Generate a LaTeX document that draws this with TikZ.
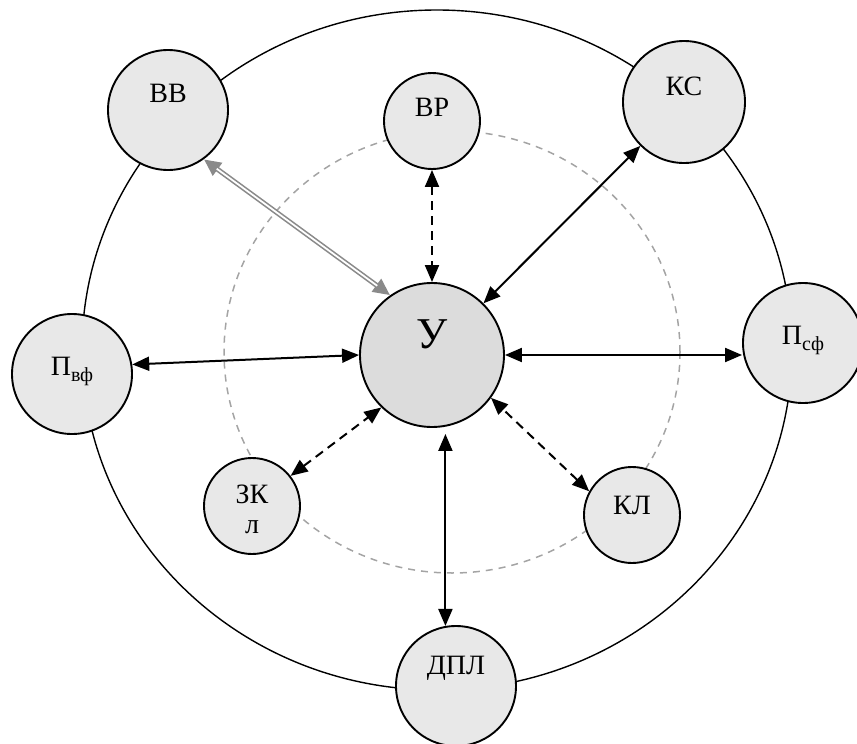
\documentclass[tikz,border=0pt]{standalone}
\usepackage{fontspec}
\setmainfont{Liberation Serif}
\usetikzlibrary{arrows.meta}

\definecolor{nodegray}{HTML}{E8E8E8}
\definecolor{coregray}{HTML}{DCDCDC}
\definecolor{ringgray}{HTML}{A4A4A4}
\definecolor{linkgray}{HTML}{8A8A8A}

\newcommand{\lowsub}[1]{\raisebox{-6pt}{\fontsize{20}{22}\selectfont #1}}

\tikzset{
	unit/.style={circle, draw, line width=1.9pt, fill=nodegray, minimum size=#1, inner sep=0pt},
	every label/.style={font=\fontsize{28}{30}\selectfont, align=center},
	link/.style={line width=2pt, {Triangle[length=17pt,width=14pt]}-{Triangle[length=17pt,width=14pt]}},
	dlink/.style={link, dash pattern=on 9pt off 6pt},
	pipe/.style={draw=linkgray, line width=5pt, {Triangle[length=17pt,width=15pt]}-{Triangle[length=17pt,width=15pt]}},
	pipecore/.style={draw=white, line width=1.8pt, shorten <=16pt, shorten >=16pt},
	ring/.style={draw=ringgray, line width=1.5pt, dash pattern=on 7pt off 6pt}
}

\begin{document}
\begin{tikzpicture}[x=1pt, y=-1pt]
				\useasboundingbox (0,0) rectangle (857,744);
				\draw[line width=1.4pt] (437,350) ellipse [x radius=355pt, y radius=340pt];
				\draw[ring] (452,352) ellipse [x radius=228pt, y radius=221pt];
				\node[unit=144pt, fill=coregray, label={[yshift=21pt, font=\fontsize{44}{46}\selectfont]center:У}] (u) at (432,355) {};
				\node[unit=120pt, label={[yshift=17pt]center:ВВ}] (vv) at (168,110) {};
				\node[unit=96pt, label={[yshift=14pt]center:ВР}] (vr) at (432,121) {};
				\node[unit=122pt, label={[yshift=16pt]center:КС}] (ks) at (684,102) {};
				\node[unit=120pt, label={[yshift=3pt]center:П\lowsub{вф}}] (pvf) at (72,374) {};
				\node[unit=120pt, label={[yshift=3pt]center:П\lowsub{сф}}] (psf) at (803,343) {};
				\node[unit=96pt, label={[yshift=-3pt]center:ЗК\\л}] (zkl) at (252,506) {};
				\node[unit=96pt, label={[yshift=10pt]center:КЛ}] (kl) at (632,515) {};
				\node[unit=120pt, label={[yshift=18pt]center:ДПЛ}] (dpl) at (456,686) {};
				\draw[link] (pvf.9) -- (u.west);
				\draw[link] (u.east) -- (u.east -| psf.west);
				\draw[link] (ks) -- (u);
				\draw[link, shorten >=6pt] (dpl.100) -- (dpl.100 |- u.south);
				\draw[dlink] (vr) -- (u);
				\draw[dlink] (zkl.38) -- (u.226);
				\draw[dlink] (kl.151) -- (u.-36);
				\draw[pipe] (vv.-54) -- (u.125);
				\draw[pipecore] (vv.-54) -- (u.125);
			\end{tikzpicture}
\end{document}
